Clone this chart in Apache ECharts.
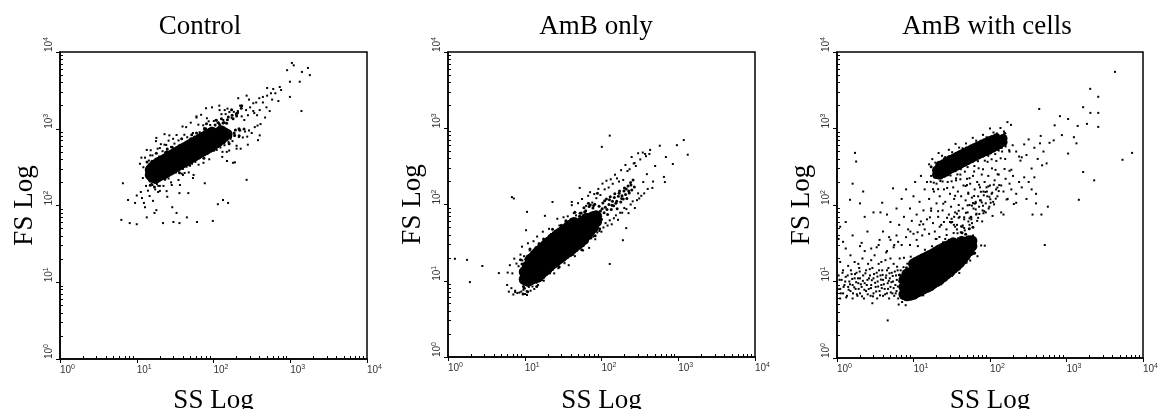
<!DOCTYPE html>
<html>
<head>
<meta charset="utf-8">
<script src="https://cdn.jsdelivr.net/npm/echarts@6/dist/echarts.min.js"></script>
<style>
  html, body { margin: 0; padding: 0; background: #fff; }
  #chart { width: 1162px; height: 409px; }
</style>
</head>
<body>
<div id="chart"></div>
<script>
// Flow cytometry dot plots: side scatter (SS) vs forward scatter (FS), both on log scales.
// Each panel has a "core" list (the solid, saturated part of a population), a "fringe"
// list (the crowded speckle right around it) and an "events" list (single visible dots).

const panelTitles = ['Control', 'AmB only', 'AmB with cells'];
const decadeTicks = [1, 10, 100, 1000, 10000];
const decadeExponents = ['0', '1', '2', '3', '4'];

// ---- Control ----
const controlCore = [
  [15,250],[15,290],[16,235],[16,275],[16,315],[17.5,225],[17.5,262],[17.5,300],[17.5,340],
  [19,238],[19,280],[19,320],[19,362],[21,250],[21,295],[21,340],[21,380],[23,262],[23,308],[23,355],[23,400],
  [25,275],[25,322],[25,372],[25,420],[27.5,290],[27.5,340],[27.5,392],[27.5,445],[30,305],[30,360],[30,412],[30,468],
  [33,322],[33,378],[33,435],[33,495],[36,340],[36,398],[36,458],[36,520],[39.5,360],[39.5,420],[39.5,485],[39.5,550],
  [43,378],[43,442],[43,508],[43,575],[47,398],[47,465],[47,535],[47,605],[51,418],[51,490],[51,562],[51,635],
  [56,440],[56,515],[56,590],[56,668],[61,462],[61,540],[61,620],[61,700],[67,488],[67,568],[67,652],[67,740],
  [73,512],[73,595],[73,685],[73,775],[80,540],[80,625],[80,720],[80,815],[88,570],[88,660],[88,755],[88,855],
  [96,605],[96,695],[96,795],[96,900],[105,640],[105,735],[105,840],[115,680],[115,780],[115,890],
  [126,730],[126,830],[126,945],[138,790],[138,890],[150,850]
];
const controlFringe = [
  [14,323],[14.9,208],[15.8,378],[17.2,209],[18.4,359],[19.5,255],[21.3,432],[22.8,256],[24.6,503],[26.2,295],
  [28.4,471],[30.3,281],[32.8,566],[35,337],[37.6,584],[40.5,401],[43.2,614],[46.8,404],[50.4,742],[54.5,411],
  [58.7,708],[63,508],[68.2,855],[73.5,510],[79.5,1000],[85,590],[91.5,938],[98,560],[105,1118],[112,662],
  [120,1140],[128,777],[137,1210],[146,784],[156,1420],[168,785],[180,1350],[193,966],[206,1613],[220,955],
  [14.5,220],[15.4,347],[16.5,219],[17.9,399],[19,215],[20.7,393],[22,267],[23.7,490],[25.5,271],[27.3,497],
  [29.3,322],[31.5,488],[33.9,309],[36.3,609],[39,364],[42,607],[45.2,421],[48.6,677],[52.5,429],[56.6,782],
  [61,426],[65.8,775],[71,529],[76.5,982],[82,544],[88,986],[95,643],[102,972],[109,611],[116,1197],
  [124,710],[133,1188],[142,830],[152,1310],[163,822],[175,1504],[188,814],[200,1470],[215,1000],[230,1849],
  [13.6,370],[15,183],[16.2,329],[17,174],[18,479],[20,240],[21.8,437],[23.3,222],[25,543],[27,271],
  [29,572],[31,277],[33.5,497],[36,268],[38.5,741],[41.5,367],[44.5,656],[48,340],[52,837],[56,417],
  [60,881],[65,431],[70,770],[75,414],[81,1158],[87,568],[94,1026],[101,523],[109,1287],[118,638],
  [127,1350],[137,663],[148,1182],[160,639],[172,1774],[186,878],[200,1586],[216,812],[233,1992],[250,992]
];
const controlEvents = [
  // halo around the population
  [11,350],[11.3,150],[11.5,420],[11.7,125],[12.2,315],[12.4,108],[12.8,420],[13.2,180],[13.5,530],[14,156],
  [14.4,385],[14.7,133],[15.2,525],[15.6,192],[16,450],[16.3,115],[16.8,370],[17.4,162],[17.8,690],[18.3,190],
  [18.7,550],[19.1,180],[19.6,435],[20,155],[20.6,630],[21.2,240],[21.7,510],[22.3,180],[23,850],[23.4,218],
  [24.2,615],[24.5,154],[25.2,500],[26,225],[26.6,820],[27.3,265],[28,580],[28.6,185],[29.8,740],[30.6,270],
  [31,640],[32.4,270],[33,830],[34.3,290],[35,705],[36.5,185],[37,585],[38.5,260],[39.5,1070],[40,300],
  [41.7,835],[42,265],[44,1050],[44.5,320],[45.5,775],[47.6,270],[49,680],[49.5,330],[50.5,1200],[52.5,350],
  [54,880],[55,250],[56.4,775],[58,370],[60,1450],[61,400],[63.5,1130],[64,340],[66,900],[67.5,430],
  [69,1520],[71,490],[73.5,1110],[74,360],[76,1020],[79,490],[80,1850],[83,470],[86.5,1250],[88,400],
  [90.5,1120],[92,595],[95.5,1900],[98,550],[101,1260],[104,700],[107,1300],[110,530],[113,1200],[117,590],
  [119,2000],[123,570],[127,1550],[131,500],[134,1300],[139,610],[144,1550],[149,500],[152,1830],[157,675],
  [161,1650],[167,740],[172,1390],[177,690],[184,1660],[190,820],[196,1550],[200,550],[208,1700],[214,780],
  [222,2000],[226,550],[233,1450],[241,770],[252,1300],[258,920],[266,1750],[275,790],[281,1500],[290,950],
  [300,1900],[315,880],[330,1700],[345,1050],[360,2200],[375,1100],[395,2500],[410,1150],[440,2200],[470,1400],
  [500,2700],[540,1700],[580,2400],[640,2900],[700,2300],[760,3200],
  [130,430],[160,520],[200,600],[150,380],[20,180],[28,200],[35,215],[40,250],[15,450],[20,560],[23,620],
  // sparse events
  [6.3,65],[6.6,195],[7.7,118],[8.1,59],[9.5,108],[10,57],[12,228],[12.8,95],[17,80],[22,59],[29,95],
  [30,61],[36,59],[45,70],[61,61],[98,63],[114,104],[133,118],[155,108],[270,216],[77,195],[54,228],
  [47,145],[36,145],[25,130],[19,150],[16,185],[10,135],[13.5,70],[18,87],[33,80],
  [910,5800],[1050,7200],[1110,6700],[1420,5500],[1700,6200],[1800,5000],[990,4100],[1330,4100],
  [990,2600],[1400,1700],[730,3500],[600,3300],[500,3400],[560,2900],[440,2600],[330,2150],[270,2700],
  [290,2400],[210,2500],[400,1750],[370,1500],[490,1900],[340,1600],[380,710],[400,820],[280,620],
  [180,360],[190,365],[82,1370],[60,1400],[120,1750],[140,1750],[18,760],[26,700]
];

// ---- AmB only ----
const amphoCore = [
  [10,10.5],[10,13],[11,10],[11,12.5],[11,15.5],[12,10.5],[12,13],[12,16],[12,19],
  [13.2,11],[13.2,13.8],[13.2,17],[13.2,20.5],[14.5,11.2],[14.5,13.5],[14.5,16.2],[14.5,19.3],[14.5,23],
  [16,12.2],[16,14.8],[16,17.6],[16,21],[16,25],[17.5,13.3],[17.5,16],[17.5,19],[17.5,22.8],[17.5,27],
  [19,14.3],[19,17.2],[19,20.6],[19,24.5],[19,29.5],[21,15.6],[21,18.9],[21,22.5],[21,27],[21,32],
  [23,17],[23,20.5],[23,24.5],[23,29],[23,35],[25,18],[25,21.7],[25,26],[25,31],[25,37],
  [27.5,19.4],[27.5,23.4],[27.5,28],[27.5,33],[27.5,40],[30,20.7],[30,25],[30,30],[30,35.7],[30,42.7],
  [33,22.4],[33,27],[33,32.3],[33,38.6],[33,46],[36,23.8],[36,28.7],[36,34.3],[36,41],[36,49],
  [40,25.8],[40,31],[40,37],[40,44.5],[40,53],[44,28],[44,33.6],[44,40],[44,48],[44,57],
  [48,30],[48,36],[48,43],[48,51.5],[53,32.3],[53,39],[53,46.5],[53,55.6],[58,35],[58,42],[58,50],[58,60],
  [64,40],[64,47],[64,56],[64,65],[70,45],[70,53],[70,63],[77,50],[77,58],[77,68],[85,60],[85,70]
];
const amphoFringe = [
  [9.2,16.6],[9.9,8],[10.7,20.3],[11.4,8.8],[12.3,21.2],[13.1,11.2],[14.1,27],[15,10.9],[16.1,28.2],[17.2,14.2],
  [18.4,29.6],[19.7,14.8],[21.1,37],[22.6,18.5],[24.2,39.4],[25.9,19],[27.7,46.5],[29.6,19.9],[31.7,47.2],[33.9,24.9],
  [36.3,59],[38.8,23.7],[41.5,60.8],[44.4,29.7],[47.5,63.2],[50.8,31.3],[54.4,77.6],[58.2,38.4],[62.3,82.5],[66.7,40.2],
  [71.3,98.8],[76.3,42.6],[81.7,101],[87.4,53.7],
  [9.6,8.4],[10.3,19.2],[11,8.8],[11.9,20.2],[12.7,10.7],[13.6,24.5],[14.6,10.6],[15.6,29.6],[16.6,13.8],[17.8,29.3],
  [19,13.9],[20.4,36.3],[21.9,16.7],[23.4,38.5],[25,19.9],[26.8,44.8],[28.6,19.9],[30.6,44.8],[32.8,23.6],[35.1,53.7],
  [37.5,23.2],[40.1,63.8],[42.9,29.7],[45.9,62.8],[49.1,29.6],[52.6,76.6],[56.3,34.9],[60.2,79.8],[64.4,41.8],[68.9,94.4],
  [73.8,42.7],[79,97],[84.5,50.8],
  [8.8,18.9],[9.5,6.7],[10.1,16],[10.9,7.2],[11.7,26],[12.5,9.6],[13.4,23.1],[14.3,8.4],[15.3,30.3],[16.4,11.4],
  [17.6,35.3],[18.8,12.5],[20.1,30.5],[21.5,13.2],[23,47.5],[24.6,17.3],[26.3,41.4],[28.1,15.1],[30,53.4],[32.1,20],
  [34.4,61],[36.8,21.4],[39.4,51.8],[42.1,22.1],[45,79.2],[48.2,29.1],[51.6,69.9],[55.2,25.5],[59,90.7],[63.1,34],
  [67.5,104],[72.3,37],[77.3,90],[82.7,38.8],[88.5,140],[94.7,48],
  [90,70],[93,95],[97,82],[100,64],[104,105],[108,78],[112,92],[116,118],[120,74],[125,100],[130,126],[134,86],
  [139,110],[144,96],[149,138],[154,104],[160,88],[166,128],[172,150],[178,108],[185,130],[192,118],[199,165],
  [206,135],[214,120],[222,175],[230,142],[239,195],[248,155],[258,210],[268,170],[95,74],[102,88],[110,112],
  [118,86],[127,115],[137,98],[147,124],[158,110],[170,140],[183,120],[196,150],[210,160],[226,150],[242,180]
];
const amphoEvents = [
  // halo around the population
  [6,12.8],[6.2,7.2],[6.4,16],[6.7,8],[6.9,12.5],[7.1,6.6],[7.3,19.5],[7.5,7.4],[7.8,16.8],[8,6.9],
  [8.3,15.5],[8.5,7],[8.8,22],[9,7.2],[9.3,18.5],[9.6,7.6],[9.8,21],[10.1,6.7],[10.4,19],[10.6,7.3],
  [11,31],[11.3,8.3],[11.6,25],[11.9,7.4],[12.3,24],[12.6,8.4],[13,33],[13.3,7.8],[13.8,27],[14.2,9.4],
  [14.5,38],[14.9,8.8],[15.4,31],[15.8,10.3],[16.3,30],[16.8,10.2],[17.2,44],[17.7,10],[18.3,35],[18.8,12.8],
  [19.4,36],[20,12.5],[20.7,48],[21.3,12.5],[22,41],[22.8,16],[23.5,43],[24.2,12.5],[25,45],[25.8,16.6],
  [26.6,65],[27.4,14.6],[28.3,53],[29.2,17.8],[30.2,52],[31.1,19.5],[32,68],[33,17],[34.1,59],[35.2,23],
  [36.3,70],[37.4,16],[38.6,61],[39.8,21.5],[41,98],[42.3,24],[43.6,77],[45,21],[46.5,72],[48,25],
  [49.5,104],[51,27],[52.5,70],[54.1,28],[55.8,118],[57.5,25],[59.3,90],[61.2,33],[63,96],[65,35],
  [67,130],[69,27],[71.2,98],[73.5,36],[75.8,106],[78,38],[80.4,137],[83,35],[85.6,121],[88.2,43],
  [91,160],[94,45],[96.8,133],[99.8,44],[103,188],[106,50],[110,158],[113,57],[116,205],[120,53],
  [124,167],[128,62],[132,214],[136,55],[140,187],[145,66],[150,246],[154,72],[159,220],[164,63],
  [169,200],[175,78],[180,282],[186,78],[192,210],[198,90],[205,330],[211,87],[218,275],[225,77],
  [232,290],[240,100],[247,420],[255,110],[263,345],[272,90],[280,320],[290,114],[300,470],[310,120],
  [320,390],[330,130],[345,480],[360,140],[380,430],[400,160],[430,520],[470,200],
  // sparse events
  [1.23,19.4],[1.77,18.8],[1.93,9.6],[2.8,15.6],[6.8,125],[7.2,120],[10.7,80],[10.4,46],[9.2,28],
  [4.6,12.6],[5.9,8.8],[7.5,7.1],[10.7,6.5],[18.3,71],[23,108],[41,108],[52,165],[71,145],[101,570],
  [128,800],[128,16.6],[210,49],[190,34],[575,590],[960,600],[1180,700],[1330,450],[370,460],[420,460],
  [690,420],[850,340],[670,197],[650,230],[500,320],[270,350],[390,250],[350,197],[300,140],[460,165]
];

// ---- AmB with cells ----
const cellsUpperCore = [
  [20,250],[20,285],[22,245],[22,285],[22,330],[24.5,258],[24.5,300],[24.5,345],[27,270],[27,315],[27,365],
  [30,290],[30,340],[30,392],[33.5,305],[33.5,355],[33.5,410],[37,322],[37,375],[37,435],[41,340],[41,395],
  [41,458],[46,360],[46,418],[46,485],[51,380],[51,440],[51,510],[57,402],[57,465],[57,538],[63,425],
  [63,490],[63,565],[70,448],[70,515],[70,595],[78,470],[78,540],[78,625],[87,495],[87,568],[87,655],
  [97,520],[97,598],[97,690],[108,550],[108,630],[108,720],[120,580],[120,665],[120,750],[133,620],
  [133,700],[148,660],[148,740]
];
const cellsLowerCore = [
  [7.5,6.8],[7.5,8.5],[7.5,10.5],[8.2,6.5],[8.2,8],[8.2,10],[8.2,12.5],[9,6.6],[9,8.3],[9,10.5],[9,13],
  [10,6.8],[10,8.6],[10,11],[10,14],[10,17],[11,7.2],[11,9.2],[11,11.6],[11,14.5],[11,18],
  [12.2,7.5],[12.2,9.5],[12.2,12],[12.2,15.2],[12.2,19],[13.5,8],[13.5,10],[13.5,12.7],[13.5,16],[13.5,20],
  [15,8.4],[15,10.6],[15,13.4],[15,17],[15,21],[16.5,8.8],[16.5,11.2],[16.5,14],[16.5,18],[16.5,22],
  [18,9.4],[18,11.8],[18,15],[18,19],[18,23],[20,10],[20,12.6],[20,16],[20,20],[20,24.5],
  [22,10.6],[22,13.4],[22,17],[22,21.5],[22,26],[24.5,11.5],[24.5,14.4],[24.5,18],[24.5,22.5],[24.5,27.5],
  [27,12.5],[27,15.5],[27,19.4],[27,24],[27,29],[30,13.5],[30,16.6],[30,20.5],[30,25],[30,30],
  [33,14.8],[33,18],[33,22],[33,27],[33,32],[36.5,16],[36.5,19.5],[36.5,24],[36.5,29],
  [40,17.5],[40,21],[40,25.5],[40,31],[44,19.5],[44,23],[44,28],[44,33],[48,22],[48,26],[48,31],
  [53,25],[53,29.5],[53,34],[58,29],[58,34]
];
const cellsFringe = [
  [6.6,12.2],[7.3,6],[8.1,15.1],[8.6,6.3],[9.4,14.5],[10,7.7],[10.5,17.2],[11.1,7.7],[11.7,17],[12.4,7.7],
  [13.1,18.6],[13.8,8.9],[14.5,21.4],[15.3,8.8],[16.2,20],[17.1,10.4],[18,23.2],[19,10.3],[20.1,22.8],[21.2,10.3],
  [22.4,25.1],[23.6,12.1],[25,29.6],[26.4,12.4],[27.9,27.7],[29.4,14.5],[31,32.6],[32.8,14.6],[34.6,32.7],[36.6,15],
  [38.6,36.4],[40.8,17.6],[43.1,43.5],[45.5,18.2],[48.1,41.4],[50.8,21.9],[53.6,49.1],[56.6,22.5],[59.8,51],[63.2,23.6],
  [17,317],[18.9,232],[21,346],[23,269],[25.4,406],[28,275],[31,420],[34.5,314],[38.5,468],[42.5,338],
  [47,496],[52,385],[57.5,577],[63.5,392],[70,600],[77.5,450],[86,665],[95,480],[105,708],[116,547],
  [128,825],[141,563],[156,866]
];
const cellsEvents = [
  // debris at low side scatter
  [1.0,7],[1.0,9.5],[1.05,12],[1.1,6],[1.1,8],[1.15,10.5],[1.2,14],[1.2,7],[1.25,9],[1.3,11.5],
  [1.35,6.5],[1.4,8.5],[1.4,16],[1.45,10],[1.5,7.5],[1.55,12.5],[1.6,9],[1.6,6],[1.7,11],[1.7,18],
  [1.75,8],[1.8,13],[1.85,6.5],[1.9,9.5],[1.95,15],[2.0,7],[2.0,11],[2.1,8.5],[2.15,20],[2.2,12],
  [2.25,6],[2.3,9.5],[2.4,14],[2.4,7.5],[2.5,10.5],[2.55,17],[2.6,8],[2.7,12],[2.75,6.5],[2.8,9],
  [2.9,15],[3.0,7],[3.0,11],[3.1,22],[3.2,8.5],[3.3,13],[3.35,6],[3.4,10],[3.5,17],[3.6,7.5],[3.7,12],
  [3.8,9],[3.9,14],[4.0,6.5],[4.0,10.5],[4.2,8],[4.3,19],[4.4,12],[4.5,7],[4.6,9.5],[4.7,15],[4.8,6],
  [4.9,11],[5.0,8.5],[5.2,13],[5.3,7],[5.4,10],[5.5,17],[5.6,6.5],[5.8,9],[5.9,12],[6.0,7.5],[6.2,14],
  [6.3,6],[6.5,10],[6.6,20],[6.8,8],[7.0,12],
  [1.02,8],[1.08,10.5],[1.12,7],[1.18,13],[1.22,8.5],[1.28,10],[1.32,6.2],[1.38,12],[1.42,7.8],[1.48,9.2],
  [1.52,14],[1.58,10.8],[1.62,7],[1.68,8.4],[1.72,12.5],[1.78,9.8],[1.82,6.8],[1.88,11],[1.92,8],[1.98,13.5],
  [2.05,9.2],[2.12,6.4],[2.18,10.2],[2.28,7.8],[2.35,12.8],[2.45,9],[2.52,6.8],[2.62,11],[2.68,14.5],[2.78,8.2],
  [2.85,10.4],[2.95,6.4],[3.05,12.5],[3.15,9.6],[3.25,7.4],[3.38,11.6],[3.45,8.6],[3.55,14],[3.65,6.6],
  [3.75,10.6],[3.85,8.2],[3.95,12.2],[4.1,9.2],[4.25,6.8],[4.35,11.2],[4.5,14],[4.65,8],[4.75,10.2],
  [4.85,12.8],[5.05,7.2],[5.15,9.8],[5.35,11.8],[5.5,8.2],[5.7,13.5],[5.85,7],[6.05,10.5],[6.25,8.6],
  [6.45,12.2],[6.7,6.8],[6.9,9.6],
  [1.1,18],[1.5,22],[1.9,17],[2.3,25],[2.8,19],[3.3,28],[3.8,18],[4.4,24],[5,20],[5.6,30],[1.3,27],
  [2.1,32],[3.6,35],[4.8,38],
  // around the lower population
  [6.1,15.6],[6.4,5],[6.8,14],[7.1,5.4],[7.5,20.4],[7.9,4.9],[8.3,17.1],[8.8,6.6],[9.2,21.1],[9.7,6.4],
  [10.2,17.2],[10.8,6.3],[11.4,29],[12,7.8],[12.7,21.8],[13.4,6.6],[14.1,26],[14.9,9.2],[15.7,22.6],[16.6,8.4],
  [17.5,28.9],[18.5,8.7],[19.5,26.3],[20.6,10.2],[21.8,38.2],[23,9.2],[24.3,32.5],[25.7,12.5],[27.1,40.5],[28.6,12],
  [30.2,32.5],[31.9,11.9],[33.7,55],[35.6,15.2],[37.6,42.7],[39.7,12.9],[41.9,52.5],[44.3,18.8],[46.8,46.6],[49.4,17.7],
  [52.2,60.9],[55.1,18.8],[58.2,57.9],[61.5,23],[65,87.6],[68.6,21.4],[72.5,76.4],[76.6,29.6],[80.9,97.7],[85.5,29.4],
  [5,60],[5,35],[5.5,28],[6,90],[6,40],[6.5,55],[7,30],[7,120],[7.5,70],[8,38],
  // between the two populations
  [3.5,30],[4,45],[4.5,25],[8,160],[8.5,48],[9,90],[9,30],[9.5,62],[10,130],[10,42],[10.5,200],[11,75],
  [11,35],[12,55],[12,110],[12.5,240],[13,40],[13.5,85],[14,160],[14,48],[15,65],[15,200],[16,120],
  [16,42],[17,90],[17,240],[18,58],[18.5,150],[19,45],[20,105],[20,190],[21,70],[22,52],[22,130],
  [23,230],[24,85],[25,60],[25,160],[26,110],[27,48],[28,200],[29,75],[30,140],[31,95],[32,60],[33,170],
  [34,120],[35,80],[36,210],[37,55],[38,150],[39,100],[40,70],[41,250],[42,130],[44,90],[45,180],[46,65],
  [48,115],[50,220],[51,80],[52,145],[54,100],[55,190],[56,70],[58,125],[60,240],[61,90],[63,160],
  [65,110],[66,75],[68,200],[70,130],[72,95],[74,170],[76,115],[78,250],[80,85],[82,150],[85,200],
  [88,105],[90,170],[92,130],[95,240],[98,95],[100,180],[105,140],[110,110],[115,210],[120,160],
  [125,130],[130,250],[140,180],[150,150],[160,220],[170,120],[180,190],[190,160],[200,240],[220,140],
  [240,200],[260,170],[280,230],[300,120],[320,200],[350,160],[380,230],[400,140],
  [6.3,33],[41,38],[12.5,61],[88,80],[23,55],[150,75],[9.1,45],[57,69],[17,84],[205,103],[31,59],[7.4,15.4],
  [72,184],[14.2,17],[112,184],[26,36],[48,177],[10.4,17.5],[180,280],[36,27],[65,106],[19.5,36],[240,430],
  [8.2,14],[95,175],[29,35],[52,140],[15.6,17.8],[130,152],[44,54],[11.3,44],[79,61],[21,83],[165,118],
  [34,70],[60,40],[13.4,56],[102,107],[24.5,104],[220,107],[39,68],[68,62],[16.4,69],[140,80],[27.5,68],
  [84,83],[50,182],[12,18.8],[190,289],[32.5,25],[58,98],[20,36],[118,288],[43,38],[76,149],[14.8,23],
  [155,296],[25.5,23.6],[98,128],[37,48],[62,131],[18,22],[260,420],[46,50],[83,134],[22,20],[126,252],
  [54,67],[35,132],[108,72],
  [30,60],[33.5,43],[37,77],[41.5,44],[46,69],[51,99],[57,65],[63,104],[70,68],[78,108],[87,148],[96,90],
  [107,145],[119,121],[132,182],[28,33],[31.5,66],[35,52],[39,84],[43.5,52],[48.5,79],[54,55],[60,106],
  [66.5,77],[74,115],[82,78],[91,150],[101,119],[113,102],[125,169],
  // around the upper population
  [16,340],[16.8,201],[17.6,398],[18.4,196],[19.3,358],[20.2,229],[21.3,478],[22.5,206],[23.6,440],[24.8,239],
  [26,423],[27.5,273],[29,527],[30.5,243],[32,490],[33.8,279],[35.5,629],[37.5,251],[39.5,563],[41.5,294],
  [43.8,551],[46,324],[48.5,638],[51,313],[53.7,570],[56.5,364],[59.5,755],[62.5,323],[66,693],[69.5,374],
  [73,662],[77,427],[81,826],[85.5,380],[90,766],[95,440],[100,1003],[105,396],[111,887],[117,463],
  [123,861],[130,515],[137,1016],[144,500],[152,915],[160,584],[169,1212],[178,520],[188,1115],[198,604],
  [18,161],[21,161],[24,203],[27.5,167],[31.5,204],[36,223],[41,217],[47,273],[54,224],[62,274],
  [71,302],[81,293],[93,367],[106,301],[121,377],[138,408],[158,399],[180,499],
  [220,500],[250,380],[280,620],[300,450],[320,720],[350,300],[380,560],[420,400],[460,800],[500,500],
  [550,350],[600,650],
  // sparse events
  [4300,5500],[2040,3300],[2600,2600],[1650,1900],[2050,1600],[2600,1600],[1850,1150],[2600,1050],
  [7200,480],[5400,390],[2300,210],[1650,270],[1450,117],[1050,1330],[1400,1080],[820,1450],[440,1800],
  [520,30],[700,1100],[870,820],[680,700],[1050,470],[1350,640],[1250,770],[450,640],[480,330],[570,95],
  [400,105],[360,75],[470,75],[1.72,480],[1.78,370],[1.48,117],[2.0,105],[1.6,190],[2.9,5.2],[4.6,3.1],
  [5.4,165],[3.9,107],[3.7,80],[4.5,75],[2.3,70],[1.1,52],[1.05,36],[1.2,33],[2.0,29],[2.8,27],
  [1.3,60],[1.6,40],[2.5,45],[3,80],[2.2,150]
];

// Minor tick positions 2..9 within every decade
const minorTicks = [];
for (let d = 1; d < 10000; d *= 10) {
  for (let m = 2; m <= 9; m++) minorTicks.push(d * m);
}

const gridBoxes = [
  { left: 60, top: 52, width: 307, height: 307 },
  { left: 448, top: 52, width: 307, height: 305 },
  { left: 837, top: 52, width: 306, height: 306 }
];
const titleCenters = [200, 596, 987];
// solid populations are drawn with overlapping discs; their diameter follows the band thickness
const panelData = [
  { cores: [{ pts: controlCore, size: 11 }], fringe: controlFringe, events: controlEvents },
  { cores: [{ pts: amphoCore, size: 12 }], fringe: amphoFringe, events: amphoEvents },
  { cores: [{ pts: cellsUpperCore, size: 9 }, { pts: cellsLowerCore, size: 11 }],
    fringe: cellsFringe, events: cellsEvents }
];

function decadeLabel(v) {
  const i = decadeTicks.findIndex(d => Math.abs(d - v) < d * 1e-6);
  return i < 0 ? '' : '{b|10}{s|' + decadeExponents[i] + '}';
}
const labelRich = {
  b: { fontFamily: 'Liberation Sans', fontSize: 10, color: '#333' },
  s: { fontFamily: 'Liberation Sans', fontSize: 7, color: '#333', padding: [0, 0, 5, 0] }
};
const serif = 'Liberation Serif';

function mainAxis(dim, i) {
  const isX = dim === 'x';
  // keep the x-axis title on the same baseline in every panel
  const bottom = gridBoxes[i].top + gridBoxes[i].height;
  return {
    type: 'log', logBase: 10, gridIndex: i, min: 1, max: 10000,
    position: isX ? 'bottom' : 'left',
    axisLine: { show: true, onZero: false, lineStyle: { color: '#000', width: 1.5 } },
    axisTick: { show: true, inside: false, length: 4, customValues: decadeTicks,
      lineStyle: { color: '#000', width: 1 } },
    axisLabel: isX
      ? { show: true, customValues: decadeTicks, formatter: decadeLabel, rich: labelRich,
          margin: 5, align: 'left', verticalAlign: 'top' }
      : { show: true, customValues: decadeTicks, formatter: decadeLabel, rich: labelRich,
          margin: 5, rotate: 90, align: 'left', verticalAlign: 'bottom' },
    splitLine: { show: false },
    name: isX ? 'SS Log' : 'FS Log',
    nameLocation: 'middle',
    nameGap: isX ? 28 + (359 - bottom) : 22,
    nameRotate: isX ? 0 : 90,
    nameTextStyle: { fontFamily: serif, fontSize: 27, color: '#000' }
  };
}
function minorAxis(dim, i) {
  return {
    type: 'log', logBase: 10, gridIndex: i, min: 1, max: 10000,
    position: dim === 'x' ? 'bottom' : 'left',
    axisLine: { show: false },
    axisTick: { show: true, inside: true, length: 3, customValues: minorTicks,
      lineStyle: { color: '#000', width: 1 } },
    axisLabel: { show: false },
    splitLine: { show: false }
  };
}

const xAxes = [], yAxes = [], series = [];
gridBoxes.forEach((g, i) => {
  xAxes.push(mainAxis('x', i), minorAxis('x', i));
  yAxes.push(mainAxis('y', i), minorAxis('y', i));
  const base = { type: 'scatter', xAxisIndex: 2 * i, yAxisIndex: 2 * i, silent: true,
    itemStyle: { color: '#000', opacity: 1 } };
  panelData[i].cores.forEach(c => {
    series.push(Object.assign({}, base, { data: c.pts, symbol: 'circle', symbolSize: c.size }));
  });
  series.push(Object.assign({}, base, { data: panelData[i].fringe, symbol: 'circle', symbolSize: 3 }));
  series.push(Object.assign({}, base, { data: panelData[i].events, symbol: 'rect', symbolSize: 2 }));
});

const chart = echarts.init(document.getElementById('chart'), null, { renderer: 'canvas' });
chart.setOption({
  backgroundColor: '#fff',
  animation: false,
  grid: gridBoxes.map(g => Object.assign({ show: true, borderColor: '#000', borderWidth: 1.5,
    backgroundColor: 'transparent', containLabel: false, outerBoundsMode: 'none' }, g)),
  xAxis: xAxes,
  yAxis: yAxes,
  series: series,
  graphic: panelTitles.map((t, i) => ({
    type: 'text', x: titleCenters[i], y: 13,
    style: { text: t, fontFamily: serif, fontSize: 27, fill: '#000',
      textAlign: 'center', textVerticalAlign: 'top' }
  }))
});
</script>
</body>
</html>
